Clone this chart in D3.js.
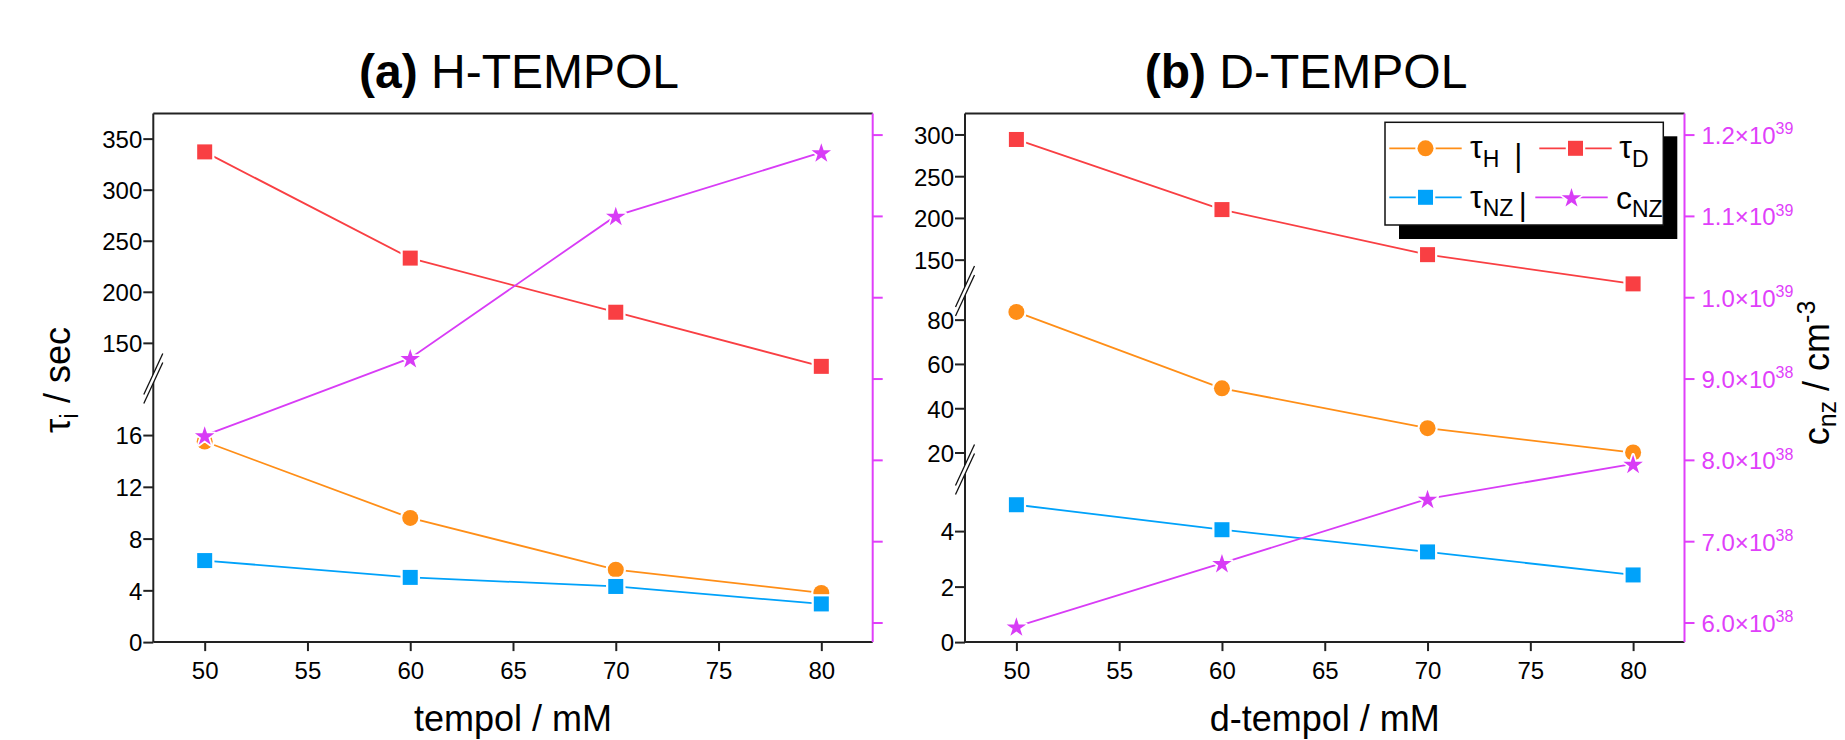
<!DOCTYPE html>
<html>
<head>
<meta charset="utf-8">
<script src="https://cdn.jsdelivr.net/npm/d3@7"></script>
<style>
  body { margin: 0; background: #fff; }
  svg text { font-family: "Liberation Sans", Arial, Helvetica, sans-serif; }
</style>
</head>
<body>
<svg id="chart" width="1845" height="740"></svg>
<script>
// ---- data ----
const concentrations = [50, 60, 70, 80];
const xTicks = [50, 55, 60, 65, 70, 75, 80];

// (a) H-TEMPOL
const tauH_H  = [15.5, 9.6, 5.6, 3.8];
const tauD_H  = [337, 233, 180, 127];
const tauNZ_H = [6.3, 5.0, 4.3, 2.95];
const cNZ_H   = [8.3e38, 9.25e38, 1.10e39, 1.178e39];

// (b) D-TEMPOL
const tauH_D  = [83.5, 49, 31, 20];
const tauD_D  = [294, 210, 156, 121];
const tauNZ_D = [4.95, 4.05, 3.25, 2.42];
const cNZ_D   = [5.95e38, 6.73e38, 7.52e38, 7.95e38];

// y tick values per axis segment
const ticksLowA = [0, 4, 8, 12, 16];
const ticksUpA  = [150, 200, 250, 300, 350];
const ticksLowB = [0, 2, 4];
const ticksMidB = [20, 40, 60, 80];
const ticksUpB  = [150, 200, 250, 300];

// right axis (number density)
const cTicks = [6e38, 7e38, 8e38, 9e38, 1.0e39, 1.1e39, 1.2e39];
const cTickMantissa = ["6.0", "7.0", "8.0", "9.0", "1.0", "1.1", "1.2"];
const cTickExponent = ["38", "38", "38", "38", "39", "39", "39"];

// ---- style ----
const COLORS = { tauH: "#FF8E17", tauD: "#F93F43", tauNZ: "#00A2FA", cNZ: "#D83CF6" };
const AXIS_MAGENTA = "#E03FFA";

const svg = d3.select("#chart");
const plotTop = 113.6, plotBottom = 642.1;

function brokenScale(segments) {
  const parts = segments.map(s => ({ seg: s, scale: d3.scaleLinear().domain(s.domain).range(s.range) }));
  const f = v => {
    const p = parts.find(p => v >= p.seg.domain[0] && v <= p.seg.domain[1]) || parts[0];
    return p.scale(v);
  };
  f.parts = parts;
  return f;
}

const panels = [
  {
    left: 153.3, right: 872.7, tag: "(a)", name: " H-TEMPOL", titleX: 519, xTitle: "tempol / mM",
    data: { tauH: tauH_H, tauD: tauD_H, tauNZ: tauNZ_H, cNZ: cNZ_H },
    segments: [
      { domain: [0, 20], range: [642.1, 383.3], ticks: ticksLowA },
      { domain: [120, 374.5], range: [373.5, 113.6], ticks: ticksUpA }
    ],
    rightLabels: false, legend: false, yTitle: true
  },
  {
    left: 965, right: 1684.5, tag: "(b)", name: " D-TEMPOL", titleX: 1306, xTitle: "d-tempol / mM",
    data: { tauH: tauH_D, tauD: tauD_D, tauNZ: tauNZ_D, cNZ: cNZ_D },
    segments: [
      { domain: [0, 6], range: [642.1, 475.6], ticks: ticksLowB },
      { domain: [15, 90], range: [463.6, 297.5], ticks: ticksMidB },
      { domain: [120, 325], range: [284.7, 113.6], ticks: ticksUpB }
    ],
    rightLabels: true, legend: true, yTitle: false
  }
];

function drawMarker(g, kind, x, y, color) {
  if (kind === "circle") {
    g.append("circle").attr("cx", x).attr("cy", y).attr("r", 8)
      .attr("fill", color).attr("stroke", "#fff").attr("stroke-width", 4.5).attr("paint-order", "stroke");
  } else if (kind === "square") {
    g.append("rect").attr("x", x - 7.5).attr("y", y - 7.5).attr("width", 15).attr("height", 15)
      .attr("fill", color).attr("stroke", "#fff").attr("stroke-width", 4.5).attr("paint-order", "stroke");
  } else {
    g.append("path").attr("d", d3.symbol(d3.symbolStar, 118)())
      .attr("transform", `translate(${x},${y + 1})`)
      .attr("fill", color).attr("stroke", "#fff").attr("stroke-width", 3.5).attr("paint-order", "stroke")
      .attr("stroke-linejoin", "round");
  }
}

const seriesDefs = [
  { key: "tauH", marker: "circle", axis: "left" },
  { key: "tauD", marker: "square", axis: "left" },
  { key: "tauNZ", marker: "square", axis: "left" },
  { key: "cNZ", marker: "star", axis: "right" }
];

panels.forEach(p => {
  const g = svg.append("g");
  const x = d3.scaleLinear().domain([47.5, 82.5]).range([p.left, p.right]);
  const y = brokenScale(p.segments);
  const yc = d3.scaleLinear().domain([5.759e38, 1.2258e39]).range([plotBottom, plotTop]);

  // title
  const t = g.append("text").attr("x", p.titleX).attr("y", 88).attr("text-anchor", "middle")
    .attr("font-size", 48).attr("fill", "#000");
  t.append("tspan").attr("font-weight", "bold").text(p.tag);
  t.append("tspan").text(p.name);

  // frame: top line
  g.append("line").attr("x1", p.left).attr("x2", p.right).attr("y1", plotTop).attr("y2", plotTop)
    .attr("stroke", "#222").attr("stroke-width", 2);

  // x axis
  const xAxis = g.append("g").attr("transform", `translate(0,${plotBottom})`)
    .call(d3.axisBottom(x).tickValues(xTicks).tickSize(9).tickPadding(11).tickSizeOuter(0)
      .tickFormat(d3.format("d")));
  xAxis.select(".domain").attr("stroke", "#222").attr("stroke-width", 2)
    .attr("d", `M${p.left},0H${p.right}`);
  xAxis.selectAll(".tick line").attr("stroke", "#222").attr("stroke-width", 2);
  xAxis.selectAll(".tick text").attr("font-size", 24).attr("fill", "#000")
    .attr("font-family", "Liberation Sans, Arial, sans-serif");

  g.append("text").attr("x", (p.left + p.right) / 2).attr("y", 731).attr("text-anchor", "middle")
    .attr("font-size", 36).attr("fill", "#000").text(p.xTitle);

  // left axis line
  g.append("line").attr("x1", p.left).attr("x2", p.left).attr("y1", plotTop).attr("y2", plotBottom)
    .attr("stroke", "#222").attr("stroke-width", 2);

  // left axis ticks, one set per segment
  y.parts.forEach(part => {
    const ax = g.append("g").attr("transform", `translate(${p.left},0)`)
      .call(d3.axisLeft(part.scale).tickValues(part.seg.ticks).tickSize(10).tickPadding(1)
        .tickFormat(d3.format("d")));
    ax.select(".domain").remove();
    ax.selectAll(".tick line").attr("stroke", "#222").attr("stroke-width", 2);
    ax.selectAll(".tick text").attr("font-size", 24).attr("fill", "#000").attr("dy", "0.37em")
      .attr("font-family", "Liberation Sans, Arial, sans-serif");
  });

  // axis breaks between segments
  for (let i = 0; i < p.segments.length - 1; i++) {
    const cy = (p.segments[i].range[1] + p.segments[i + 1].range[0]) / 2;
    const cx = p.left;
    const hw = 9.5, hh = 20.5, off = 4.5;
    g.append("path")
      .attr("d", `M${cx - hw},${cy + hh - off}L${cx + hw},${cy - hh - off}L${cx + hw},${cy - hh + off}L${cx - hw},${cy + hh + off}Z`)
      .attr("fill", "#fff");
    [-off, off].forEach(o => {
      g.append("line").attr("x1", cx - hw).attr("y1", cy + hh + o).attr("x2", cx + hw).attr("y2", cy - hh + o)
        .attr("stroke", "#111").attr("stroke-width", 1.3);
    });
  }

  // right (magenta) axis
  const rAx = g.append("g").attr("transform", `translate(${p.right},0)`)
    .call(d3.axisRight(yc).tickValues(cTicks).tickSize(10).tickFormat(""));
  rAx.select(".domain").attr("stroke", AXIS_MAGENTA).attr("stroke-width", 2)
    .attr("d", `M0,${plotTop}V${plotBottom}`);
  rAx.selectAll(".tick line").attr("stroke", AXIS_MAGENTA).attr("stroke-width", 2);

  if (p.rightLabels) {
    cTicks.forEach((v, i) => {
      const lt = g.append("text").attr("x", p.right + 17).attr("y", yc(v) + 9.4)
        .attr("font-size", 24).attr("fill", AXIS_MAGENTA);
      lt.append("tspan").text(cTickMantissa[i] + "×10");
      lt.append("tspan").attr("font-size", 16).attr("dy", -9.5).text(cTickExponent[i]);
    });
    const rt = g.append("text")
      .attr("transform", `translate(1829,373) rotate(-90)`)
      .attr("text-anchor", "middle").attr("font-size", 36).attr("fill", "#000");
    rt.append("tspan").text("c");
    rt.append("tspan").attr("font-size", 25).attr("dy", 7).text("nz");
    rt.append("tspan").attr("dy", -7).text(" / cm");
    rt.append("tspan").attr("font-size", 25).attr("dy", -14).text("-3");
  }

  if (p.yTitle) {
    const lt = g.append("text")
      .attr("transform", `translate(70,380) rotate(-90)`)
      .attr("text-anchor", "middle").attr("font-size", 36).attr("fill", "#000");
    lt.append("tspan").text("τ");
    lt.append("tspan").attr("font-size", 25).attr("dy", 8).text("i");
    lt.append("tspan").attr("dy", -8).text(" / sec");
  }

  // series
  seriesDefs.forEach(s => {
    const vals = p.data[s.key];
    const sy = s.axis === "left" ? y : yc;
    const pts = concentrations.map((c, i) => [x(c), sy(vals[i])]);
    g.append("path").attr("d", d3.line()(pts)).attr("fill", "none")
      .attr("stroke", COLORS[s.key]).attr("stroke-width", 1.8);
    pts.forEach(pt => drawMarker(g, s.marker, pt[0], pt[1], COLORS[s.key]));
  });

  if (p.legend) {
    const lg = g.append("g");
    const bx = 1385, by = 122.3, bw = 278.3, bh = 102.7;
    lg.append("rect").attr("x", bx + 14).attr("y", by + 14).attr("width", bw).attr("height", bh).attr("fill", "#000");
    lg.append("rect").attr("x", bx).attr("y", by).attr("width", bw).attr("height", bh)
      .attr("fill", "#fff").attr("stroke", "#111").attr("stroke-width", 1.5);

    const entries = [
      { key: "tauH", marker: "circle", lx: 1389.3, ly: 148.3, sym: "τ", sub: "H", tx: 1470, tb: 158.3, bar: 1518.3 },
      { key: "tauD", marker: "square", lx: 1539.3, ly: 148.3, sym: "τ", sub: "D", tx: 1619.3, tb: 158.3, bar: null },
      { key: "tauNZ", marker: "square", lx: 1389.3, ly: 197.3, sym: "τ", sub: "NZ", tx: 1470, tb: 207.5, bar: 1522.7 },
      { key: "cNZ", marker: "star", lx: 1535.3, ly: 197.3, sym: "c", sub: "NZ", tx: 1616, tb: 208.5, bar: null }
    ];
    entries.forEach(e => {
      lg.append("line").attr("x1", e.lx).attr("x2", e.lx + 72.4).attr("y1", e.ly).attr("y2", e.ly)
        .attr("stroke", COLORS[e.key]).attr("stroke-width", 1.8);
      drawMarker(lg, e.marker, e.lx + 36.2, e.ly, COLORS[e.key]);
      const tt = lg.append("text").attr("x", e.tx).attr("y", e.tb).attr("font-size", 32).attr("fill", "#000");
      tt.append("tspan").text(e.sym);
      tt.append("tspan").attr("font-size", 23).attr("dy", 8.5).text(e.sub);
      if (e.bar !== null) {
        lg.append("text").attr("x", e.bar).attr("y", e.ly + 18).attr("text-anchor", "middle")
          .attr("font-size", 31).attr("fill", "#000").text("|");
      }
    });
  }
});
</script>
</body>
</html>
